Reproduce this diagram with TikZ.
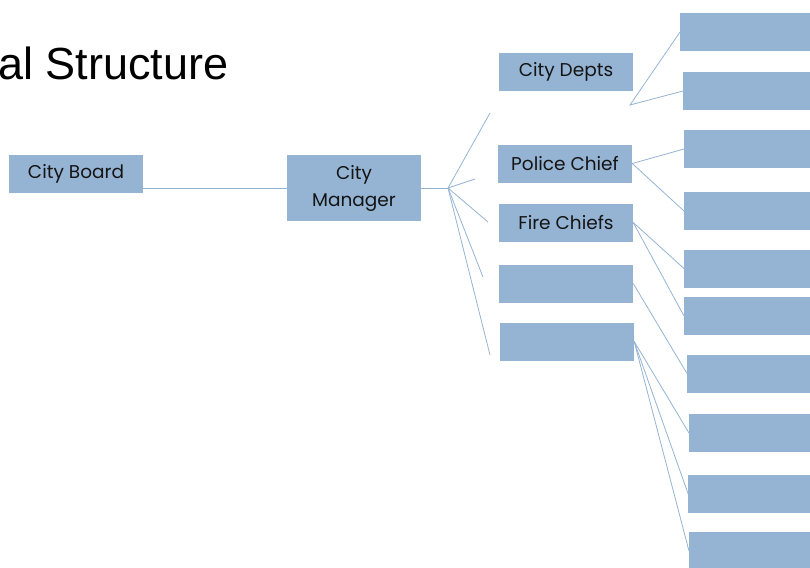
\documentclass[tikz,border=0pt]{standalone}
\usepackage{fontspec}
\setmainfont{Poppins}
\newfontfamily\titlefont{Liberation Sans}
\usetikzlibrary{calc}
\definecolor{orgblue}{RGB}{149,180,212}
\definecolor{orgtext}{RGB}{20,20,20}
\tikzset{
  orgbox/.style={rectangle, fill=orgblue, inner sep=0pt, text=orgtext,
    minimum width=134pt, minimum height=38pt, font=\fontsize{18.5}{27}\selectfont, align=center},
  sidebox/.style={rectangle, fill=orgblue, inner sep=0pt, minimum width=170pt,
    minimum height=38pt, anchor=west},
  orgline/.style={draw=orgblue, line width=0.8pt}
}
\begin{document}
\begin{tikzpicture}[x=1pt,y=-1pt]
        \newcommand{\orgmidx}{566}
        \newcommand{\orghubx}{448}
        \newcommand{\orghuby}{188}
        \useasboundingbox (0,0) rectangle (810,567);
        \clip (0,0) rectangle (810,567);
        % title, cut off at the left edge
        \node[anchor=base west, inner sep=0pt, font=\titlefont\fontsize{45}{50}\selectfont] (title) at (-2,80) {al Structure};
        % left side
        \node[orgbox] (board) at (76,174) {City Board};
        \node[orgbox, minimum height=66pt] (mgr) at (354,188) {City\\Manager};
        \coordinate (hub) at (\orghubx,\orghuby);
        \draw[orgline] (board.east |- mgr.west) -- (mgr.west);
        \draw[orgline] (mgr.east) -- (hub);
        % fan from the city manager
        \coordinate (fana) at (490,113);
        \coordinate (fanb) at (475,179);
        \coordinate (fanc) at (488,222);
        \coordinate (fand) at (483,277);
        \coordinate (fane) at (490,355);
        \foreach \f in {fana,fanb,fanc,fand,fane}
            \draw[orgline] (hub) -- (\f);
        % middle column
        \node[orgbox] (depts) at (\orgmidx,72) {City Depts};
        \node[orgbox] (police) at (\orgmidx-1,163.5) {Police Chief};
        \node[orgbox] (fire) at (\orgmidx,222.5) {Fire Chiefs};
        \node[orgbox] (blanka) at (\orgmidx,283.5) {};
        \node[orgbox] (blankb) at (\orgmidx+1,341.5) {};
        % right column
        \node[sidebox] (ra) at (680,32) {};
        \node[sidebox] (rb) at (683,91) {};
        \node[sidebox] (rc) at (684,149) {};
        \node[sidebox] (rd) at (684,211) {};
        \node[sidebox] (re) at (684,268.5) {};
        \node[sidebox] (rf) at (684,316) {};
        \node[sidebox] (rg) at (687,373.5) {};
        \node[sidebox] (rh) at (689,433) {};
        \node[sidebox] (ri) at (688,493.5) {};
        \node[sidebox] (rj) at (689,551) {};
        % connectors to the right column
        \coordinate (deptsfan) at (630,105);
        \draw[orgline] (ra.west) -- (deptsfan) -- (rb.west);
        \draw[orgline] (police.east) -- (rc.west);
        \draw[orgline] (police.east) -- (rd.west);
        \draw[orgline] (fire.east) -- (re.west);
        \draw[orgline] (fire.east) -- (rf.west);
        \draw[orgline] (blanka.east) -- (rg.west);
        \foreach \r in {rh,ri,rj}
            \draw[orgline] (blankb.east) -- (\r.west);
    \end{tikzpicture}
\end{document}
